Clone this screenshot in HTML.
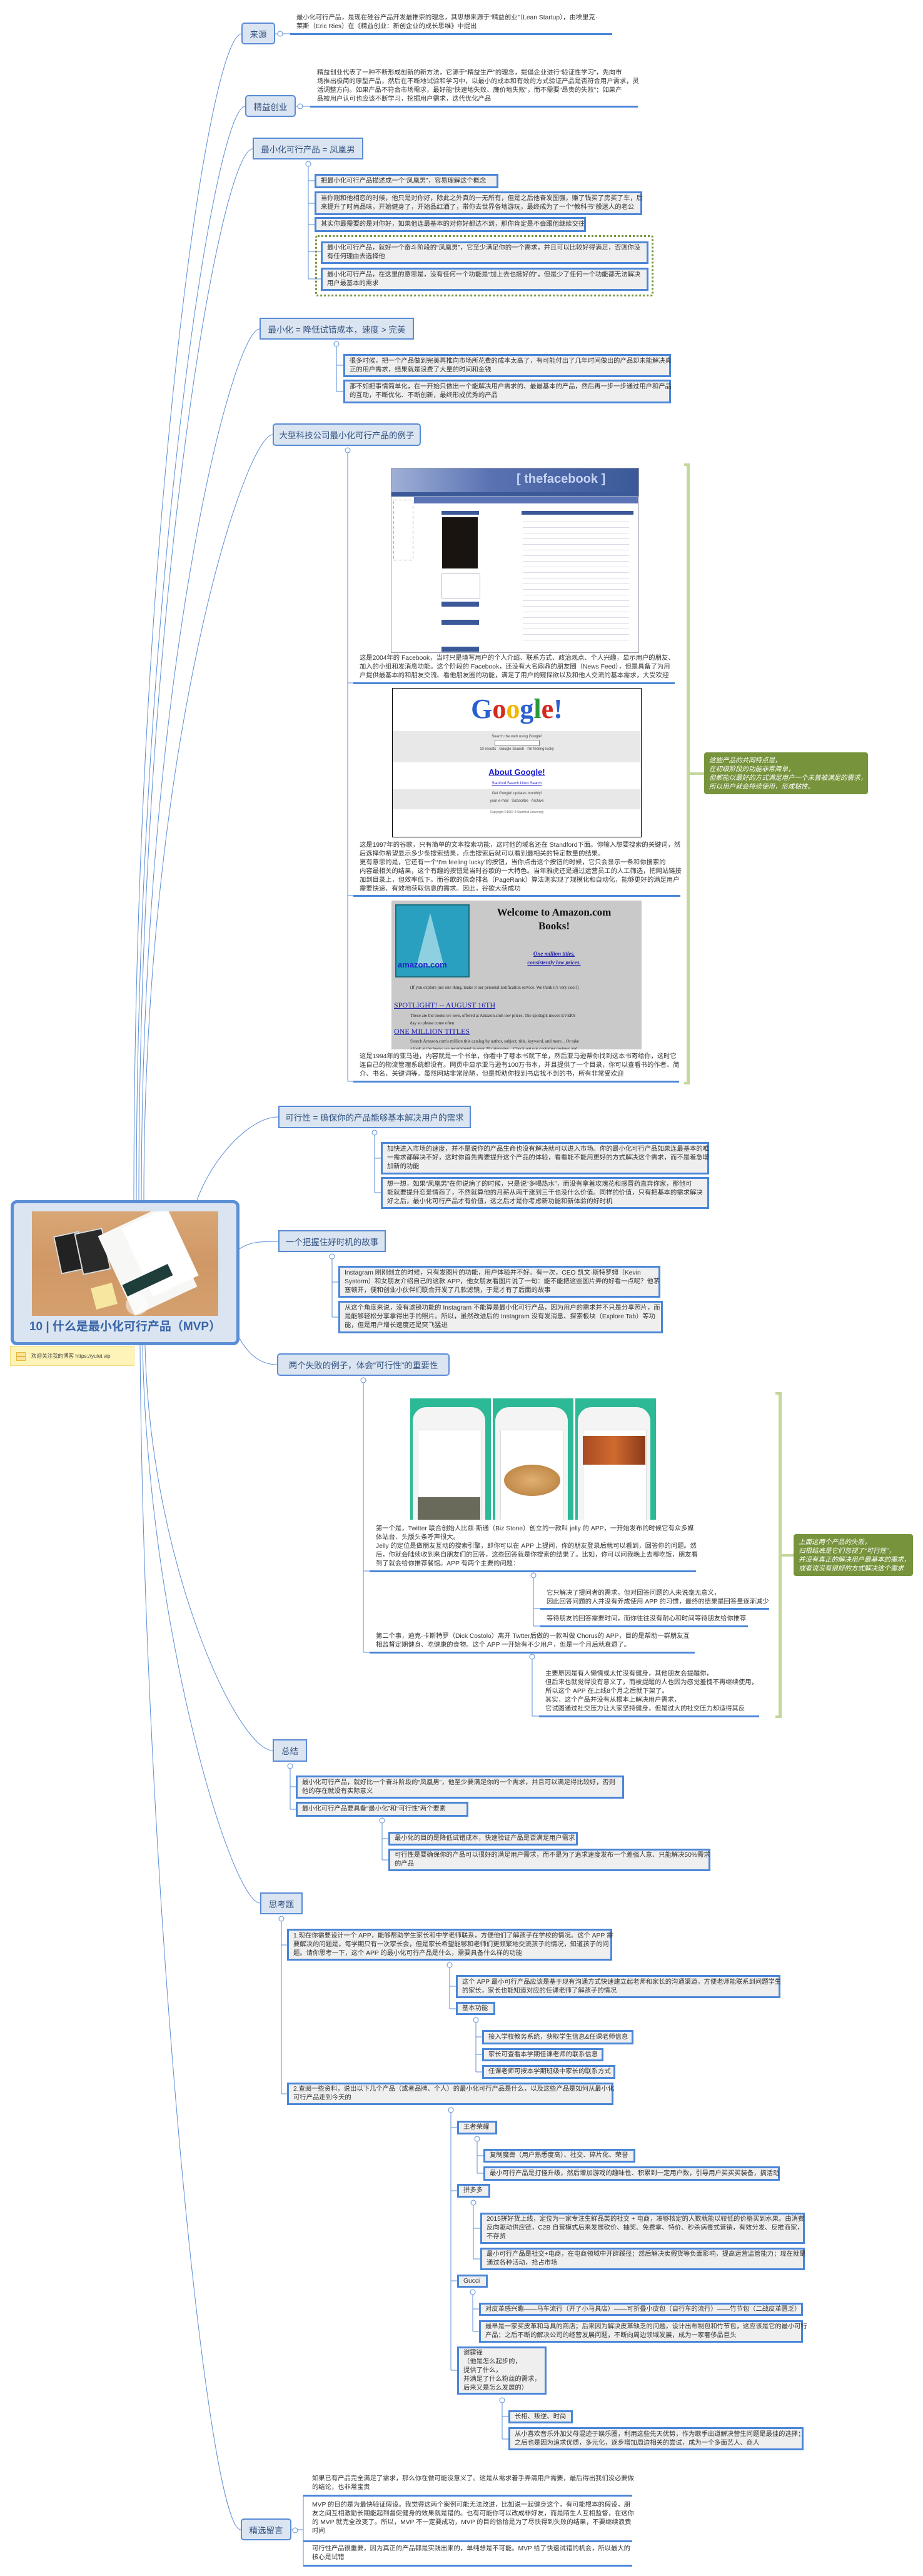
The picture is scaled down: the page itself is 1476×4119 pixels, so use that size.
<!DOCTYPE html>
<html><head><meta charset="utf-8">
<style>
*{margin:0;padding:0}
body{width:1476px;height:4119px;position:relative;background:#fff;font-family:"Liberation Sans","Noto Sans CJK SC",sans-serif;overflow:hidden}
.n{position:absolute;background:#dbe5f1;border:2px solid #5a8bd6;color:#2f4f7f;font-size:13.5px;display:flex;align-items:center;justify-content:center;box-sizing:border-box;white-space:nowrap}
.r{border-radius:5px}
.b{position:absolute;background:#efefef;border:3px solid #4a86d8;box-sizing:border-box;font-size:10.3px;line-height:14px;padding:0 7px;color:#333;white-space:nowrap;display:flex;align-items:center}
.t{position:absolute;font-size:10.3px;line-height:14px;color:#333;white-space:nowrap}
.u{position:absolute;height:3px;background:#4a86d8}
.g{position:absolute;background:#77933c;color:#fff;font-style:italic;font-size:10.5px;line-height:14px;padding:6px 8px;box-sizing:border-box;border-radius:4px;white-space:nowrap}
.gb{position:absolute;background:#c3d69b}
svg{position:absolute;left:0;top:0}
</style></head><body>
<svg width="1476" height="4119" fill="none" stroke="#5b8ed6" stroke-width="1">
<!-- main curves -->
<path d="M214 1919 C214 900,330 60,386 54"/>
<path d="M218 1919 C218 1000,340 172,392 170"/>
<path d="M222 1919 C222 1000,350 240,404 238"/>
<path d="M226 1919 C226 1100,370 528,415 526"/>
<path d="M230 1919 C230 1200,390 697,436 695"/>
<path d="M315 1919 C340 1850,400 1786,445 1786"/>
<path d="M383 1997 C400 1985,420 1985,445 1985"/>
<path d="M383 2140 C400 2170,420 2182,443 2182"/>
<path d="M232 2151 C240 2500,380 2799,436 2799"/>
<path d="M228 2151 C236 2600,370 3043,416 3043"/>
<path d="M224 2151 C230 3000,330 4045,385 4045"/>
<!-- 来源 -->
<path d="M440 54 H464"/><circle cx="448" cy="54" r="4" fill="#fff"/>
<path d="M473 170 H496"/><circle cx="480" cy="170" r="4" fill="#fff"/>
<!-- 凤凰男 -->
<path d="M493 266 V446 M493 289 H503 M493 325 H503 M493 359 H503 M493 402 H513 M493 446 H513"/><circle cx="493" cy="262" r="4" fill="#fff"/>
<path d="M538 554 V626 M538 584 H549 M538 626 H549"/><circle cx="538" cy="550" r="4" fill="#fff"/>
<path d="M556 724 V1729 M556 1092 H565 M556 1432 H565 M556 1729 H565"/><circle cx="556" cy="720" r="4" fill="#fff"/>
<path d="M599 1815 V1907 M599 1852 H609 M599 1907 H609"/><circle cx="599" cy="1811" r="4" fill="#fff"/>
<path d="M531 2013 V2106 M531 2050 H541 M531 2106 H541"/><circle cx="531" cy="2009" r="4" fill="#fff"/>
<path d="M581 2211 V2642 M581 2512 H591 M581 2642 H591"/><circle cx="581" cy="2207" r="4" fill="#fff"/>
<path d="M853 2523 V2600 M853 2572 H864 M853 2600 H864"/><circle cx="853" cy="2519" r="4" fill="#fff"/>
<path d="M851 2653 V2744 H862"/><circle cx="851" cy="2649" r="4" fill="#fff"/>
<path d="M464 2828 V2893 M464 2857 H473 M464 2893 H473"/><circle cx="464" cy="2824" r="4" fill="#fff"/>
<path d="M611 2915 V2974 M611 2940 H621 M611 2974 H621"/><circle cx="611" cy="2911" r="4" fill="#fff"/>
<path d="M450 3072 V3348 M450 3110 H459 M450 3348 H459"/><circle cx="450" cy="3068" r="4" fill="#fff"/>
<path d="M719 3146 V3212 M719 3176 H729 M719 3212 H729"/><circle cx="719" cy="3142" r="4" fill="#fff"/>
<path d="M761 3234 V3313 M761 3257 H771 M761 3285 H771 M761 3313 H771"/><circle cx="761" cy="3230" r="4" fill="#fff"/>
<path d="M721 3378 V3790 M721 3402 H731 M721 3503 H731 M721 3647 H731 M721 3790 H731"/><circle cx="721" cy="3374" r="4" fill="#fff"/>
<path d="M763 3424 V3475 M763 3447 H773 M763 3475 H773"/><circle cx="763" cy="3420" r="4" fill="#fff"/>
<path d="M757 3526 V3612 M757 3563 H768 M757 3612 H768"/><circle cx="757" cy="3522" r="4" fill="#fff"/>
<path d="M756 3669 V3728 M756 3692 H766 M756 3728 H766"/><circle cx="756" cy="3665" r="4" fill="#fff"/>
<path d="M803 3842 V3900 M803 3864 H813 M803 3900 H813"/><circle cx="803" cy="3838" r="4" fill="#fff"/>
<path d="M466 4045 H476 M485 3990 V4102 M476 4045 H485"/><circle cx="472" cy="4046" r="4" fill="#fff"/>
</svg>

<!-- 来源 -->
<div class="n r" style="left:386px;top:36px;width:54px;height:35px">来源</div>
<div class="t" style="left:474px;top:22px">最小化可行产品，是现在硅谷产品开发最推崇的理念，其思想来源于“精益创业”（Lean Startup），由埃里克·<br>莱斯（Eric Ries）在《精益创业：新创企业的成长思维》中提出</div>
<div class="u" style="left:464px;top:53px;width:515px"></div>

<div class="n r" style="left:392px;top:152px;width:81px;height:35px">精益创业</div>
<div class="t" style="left:507px;top:110px">精益创业代表了一种不断形成创新的新方法，它源于“精益生产”的理念，提倡企业进行“验证性学习”，先向市<br>场推出极简的原型产品，然后在不断地试验和学习中，以最小的成本和有效的方式验证产品是否符合用户需求，灵<br>活调整方向。如果产品不符合市场需求，最好能“快速地失败、廉价地失败”，而不需要“昂贵的失败”；如果产<br>品被用户认可也应该不断学习，挖掘用户需求，迭代优化产品</div>
<div class="u" style="left:496px;top:169px;width:524px"></div>

<div class="n" style="left:404px;top:220px;width:177px;height:35px">最小化可行产品 = 凤凰男</div>
<div class="b" style="left:503px;top:278px;width:294px;height:23px">把最小化可行产品描述成一个“凤凰男”，容易理解这个概念</div>
<div class="b" style="left:503px;top:306px;width:524px;height:38px">当你刚和他相恋的时候，他只是对你好，除此之外真的一无所有，但是之后他奋发图强，赚了钱买了房买了车，后<br>来提升了时尚品味，开始健身了，开始品红酒了，带你去世界各地游玩，最终成为了一个“教科书”般迷人的老公</div>
<div class="b" style="left:503px;top:347px;width:434px;height:24px">其实你最需要的是对你好，如果他连最基本的对你好都达不到，那你肯定是不会跟他继续交往</div>
<div style="position:absolute;left:504px;top:376px;width:541px;height:98px;border:3px dotted #77933c;box-sizing:border-box;border-radius:4px"></div>
<div class="b" style="left:513px;top:386px;width:524px;height:36px">最小化可行产品，就好一个奋斗阶段的“凤凰男”，它至少满足你的一个需求，并且可以比较好得满足，否则你没<br>有任何理由去选择他</div>
<div class="b" style="left:513px;top:428px;width:524px;height:37px">最小化可行产品，在这里的意思是，没有任何一个功能是“加上去也挺好的”，但是少了任何一个功能都无法解决<br>用户最基本的需求</div>

<div class="n" style="left:415px;top:508px;width:247px;height:35px">最小化 = 降低试错成本，速度 &gt; 完美</div>
<div class="b" style="left:549px;top:566px;width:524px;height:37px">很多时候，把一个产品做到完美再推向市场所花费的成本太高了，有可能付出了几年时间做出的产品却未能解决真<br>正的用户需求，结果就是浪费了大量的时间和金钱</div>
<div class="b" style="left:549px;top:607px;width:524px;height:38px">那不如把事情简单化，在一开始只做出一个能解决用户需求的、最最基本的产品，然后再一步一步通过用户和产品<br>的互动，不断优化、不断创新，最终形成优秀的产品</div>

<div class="n r" style="left:436px;top:677px;width:237px;height:36px">大型科技公司最小化可行产品的例子</div>
<!-- facebook -->
<div style="position:absolute;left:625px;top:748px;width:395px;height:294px;background:#fff;border:1px solid #99a;overflow:hidden">
 <div style="height:38px;background:linear-gradient(90deg,#9fb0d6,#5a72b2 40%,#3b5998);color:#c8d6f5;font-size:20px;font-weight:bold;padding:6px 0 0 200px;box-sizing:border-box">[ thefacebook ]</div>
 <div style="height:7px;background:#3b5998"></div>
 <div style="position:absolute;left:36px;top:46px;width:358px;height:10px;background:#5b74b5"></div>
 <div style="position:absolute;left:3px;top:50px;width:30px;height:95px;border:1px dotted #99a"></div>
 <div style="position:absolute;left:80px;top:68px;width:60px;height:6px;background:#3b5998"></div>
 <div style="position:absolute;left:81px;top:78px;width:57px;height:82px;background:#1a1410"></div>
 <div style="position:absolute;left:208px;top:68px;width:179px;height:6px;background:#3b5998"></div>
 <div style="position:absolute;left:80px;top:168px;width:60px;height:38px;border:1px solid #bbc"></div>
 <div style="position:absolute;left:80px;top:213px;width:60px;height:8px;background:#3b5998"></div>
 <div style="position:absolute;left:80px;top:242px;width:60px;height:8px;background:#3b5998"></div>
 <div style="position:absolute;left:80px;top:285px;width:60px;height:8px;background:#3b5998"></div>
 <div style="position:absolute;left:210px;top:80px;width:170px;height:200px;background:repeating-linear-gradient(#fff 0 5px,#d8dbe6 5px 6px,#fff 6px 9px)"></div>
</div>
<div class="t" style="left:575px;top:1046px">这是2004年的 Facebook，当时只是填写用户的个人介绍、联系方式、政治观点、个人兴趣，显示用户的朋友、<br>加入的小组和发消息功能。这个阶段的 Facebook，还没有大名鼎鼎的朋友圈（News Feed），但是具备了为用<br>户提供最基本的和朋友交流、看他朋友圈的功能，满足了用户的窥探欲以及和他人交流的基本需求，大受欢迎</div>
<div class="u" style="left:565px;top:1091px;width:514px"></div>
<!-- google -->
<div style="position:absolute;left:627px;top:1100px;width:399px;height:239px;background:#fff;border:1px solid #000;box-sizing:border-box;text-align:center;overflow:hidden">
 <div style="font-family:'Liberation Serif',serif;font-weight:bold;font-size:44px;line-height:58px;margin-top:4px"><span style="color:#2a5fd0">G</span><span style="color:#d52a1e">o</span><span style="color:#f0b800">o</span><span style="color:#2a5fd0">g</span><span style="color:#2a9a3a">l</span><span style="color:#d52a1e">e</span><span style="color:#2a5fd0">!</span></div>
 <div style="background:#e8e8e8;height:50px;margin-top:6px;font-size:6px;color:#444;padding-top:6px;box-sizing:border-box">Search the web using Google!<div style="width:70px;height:8px;border:1px solid #888;background:#fff;margin:2px auto"></div>10 results &nbsp; Google Search &nbsp; I'm feeling lucky</div>
 <div style="color:#1a1acc;font-size:13px;font-weight:bold;text-decoration:underline;margin-top:8px">About Google!</div>
 <div style="color:#1a1acc;font-size:6px;text-decoration:underline;margin-top:8px">Stanford Search Linux Search</div>
 <div style="background:#e8e8e8;height:32px;margin-top:6px;font-size:6px;color:#444;padding-top:4px;box-sizing:border-box">Get Google! updates monthly!<br><br>your e-mail &nbsp; Subscribe &nbsp; Archive</div>
 <div style="font-size:5px;color:#666;margin-top:2px">Copyright ©1997-8 Stanford University</div>
</div>
<div class="t" style="left:575px;top:1345px">这是1997年的谷歌，只有简单的文本搜索功能，这时他的域名还在 Standford下面。你输入想要搜索的关键词，然<br>后选择你希望显示多少条搜索结果，点击搜索后就可以看到最相关的特定数量的结果。<br>更有意思的是，它还有一个‘I'm feeling lucky’的按钮，当你点击这个按钮的时候，它只会显示一条和你搜索的<br>内容最相关的结果，这个有趣的按钮是当时谷歌的一大特色。当年雅虎还是通过运营员工的人工筛选，把网站链接<br>加到目录上，但效率低下。而谷歌的佩奇排名（PageRank）算法则实现了规模化和自动化，能够更好的满足用户<br>需要快速、有效地获取信息的需求。因此，谷歌大获成功</div>
<div class="u" style="left:565px;top:1431px;width:523px"></div>
<!-- amazon -->
<div style="position:absolute;left:626px;top:1440px;width:400px;height:238px;background:#c9c9c9;overflow:hidden;font-family:'Liberation Serif',serif">
 <div style="position:absolute;left:6px;top:6px;width:115px;height:113px;background:#2aa0c0;border:2px solid #1a6f80"></div>
 <div style="position:absolute;left:40px;top:20px;width:0;height:0;border-left:22px solid transparent;border-right:22px solid transparent;border-bottom:85px solid #8fd0e0"></div>
 <div style="position:absolute;left:10px;top:95px;color:#2222cc;font-family:'Liberation Sans',sans-serif;font-weight:bold;font-size:13px">amazon.com</div>
 <div style="position:absolute;left:130px;top:8px;width:260px;text-align:center;font-weight:bold;font-size:17px;line-height:22px;color:#111">Welcome to Amazon.com<br>Books!</div>
 <div style="position:absolute;left:130px;top:78px;width:260px;text-align:center;font-style:italic;font-weight:bold;font-size:9px;line-height:14px;color:#2222aa;text-decoration:underline">One million titles,<br>consistently low prices.</div>
 <div style="position:absolute;left:30px;top:135px;font-size:7px;color:#222">(If you explore just one thing, make it our personal notification service. We think it's very cool!)</div>
 <div style="position:absolute;left:4px;top:160px;font-size:12px;color:#2222aa;text-decoration:underline">SPOTLIGHT! -- AUGUST 16TH</div>
 <div style="position:absolute;left:30px;top:178px;font-size:7px;line-height:12px;color:#222">These are the books we love, offered at Amazon.com low prices. The spotlight moves EVERY<br>day so please come often.</div>
 <div style="position:absolute;left:4px;top:202px;font-size:12px;color:#2222aa;text-decoration:underline">ONE MILLION TITLES</div>
 <div style="position:absolute;left:30px;top:219px;font-size:7px;line-height:12px;color:#222">Search Amazon.com's million title catalog by author, subject, title, keyword, and more... Or take<br>a look at the books we recommend in over 20 categories... Check out our customer reviews and</div>
</div>
<div class="t" style="left:575px;top:1683px">这是1994年的亚马逊，内容就是一个书单，你看中了哪本书就下单，然后亚马逊帮你找到这本书寄给你，这时它<br>连自己的物流管理系统都没有。网页中显示亚马逊有100万书本，并且提供了一个目录，你可以查看书的作者、简<br>介、书名、关键词等。虽然网站非常简陋，但是帮助你找到书店找不到的书，所有非常受欢迎</div>
<div class="u" style="left:565px;top:1728px;width:521px"></div>
<div class="gb" style="left:1098px;top:741px;width:5px;height:993px"></div>
<div class="gb" style="left:1094px;top:741px;width:9px;height:4px"></div>
<div class="gb" style="left:1094px;top:1730px;width:9px;height:4px"></div>
<div class="gb" style="left:1103px;top:1235px;width:23px;height:4px"></div>
<div class="g" style="left:1126px;top:1203px;width:262px;height:67px">这些产品的共同特点是，<br>在初级阶段的功能非常简单，<br>但都能以最好的方式满足用户一个未曾被满足的需求，<br>所以用户就会持续使用，形成粘性。</div>

<div class="n" style="left:445px;top:1768px;width:308px;height:36px">可行性 = 确保你的产品能够基本解决用户的需求</div>
<div class="b" style="left:609px;top:1826px;width:525px;height:52px">加快进入市场的速度，并不是说你的产品生命也没有解决就可以进入市场。你的最小化可行产品如果连最基本的唯<br>一需求都解决不好，这时你首先需要提升这个产品的体验，看看能不能用更好的方式解决这个需求，而不是着急增<br>加新的功能</div>
<div class="b" style="left:609px;top:1882px;width:525px;height:51px">想一想，如果“凤凰男”在你说病了的时候，只是说“多喝热水”，而没有拿着玫瑰花和感冒药直奔你家，那他可<br>能就要提升恋爱情商了，不然就算他的月薪从两千涨到三千也没什么价值。同样的价值，只有把基本的需求解决<br>好之后，最小化可行产品才有价值，这之后才是你考虑新功能和新体验的好时机</div>

<!-- center -->
<div style="position:absolute;left:17px;top:1919px;width:366px;height:232px;background:#dbe5f1;border:5px solid #5a8fd6;border-radius:10px;box-sizing:border-box"></div>
<div style="position:absolute;left:51px;top:1937px;width:298px;height:167px;background:linear-gradient(180deg,#d9a675,#cf9866 50%,#d5a06f);overflow:hidden">
 <div style="position:absolute;left:40px;top:35px;width:38px;height:58px;background:#222;transform:rotate(-12deg);border:2px solid #ddd"></div>
 <div style="position:absolute;left:74px;top:30px;width:42px;height:64px;background:#2a2a2a;transform:rotate(-12deg);border:2px solid #ddd"></div>
 <div style="position:absolute;left:130px;top:10px;width:110px;height:140px;background:#f7f7f5;transform:rotate(-25deg)"></div>
 <div style="position:absolute;left:165px;top:5px;width:80px;height:120px;background:#fff;transform:rotate(-25deg)"></div>
 <div style="position:absolute;left:145px;top:100px;width:80px;height:20px;background:#1f3d3a;transform:rotate(-25deg)"></div>
 <div style="position:absolute;left:98px;top:118px;width:35px;height:35px;background:#f6e7a0;transform:rotate(-15deg)"></div>
 <div style="position:absolute;left:150px;top:132px;width:36px;height:34px;border-radius:50%;background:rgba(255,255,255,.5)"></div>
</div>
<div style="position:absolute;left:17px;top:2106px;width:366px;text-align:center;font-size:19px;font-weight:bold;color:#3a66a8;white-space:nowrap">10 | 什么是最小化可行产品（MVP）</div>
<div style="position:absolute;left:16px;top:2152px;width:199px;height:32px;background:#fff4b8;border:1px solid #f0da7c;box-sizing:border-box;font-size:8.5px;color:#444;line-height:30px;padding-left:33px;white-space:nowrap">欢迎关注我的博客 https://yulei.vip
 <div style="position:absolute;left:9px;top:9px;width:13px;height:5px;border:1px solid #e8b640;background:#fde39a"></div>
 <div style="position:absolute;left:9px;top:16px;width:13px;height:5px;border:1px solid #e8b640;background:#fde39a"></div>
</div>

<div class="n" style="left:445px;top:1967px;width:172px;height:35px">一个把握住好时机的故事</div>
<div class="b" style="left:541px;top:2024px;width:515px;height:51px">Instagram 刚刚创立的时候，只有发图片的功能，用户体验并不好。有一次，CEO 凯文·斯特罗姆（Kevin<br>Systorm）和女朋友介绍自己的这款 APP，他女朋友看图片说了一句：能不能把这些图片弄的好看一点呢？他茅<br>塞顿开，便和创业小伙伴们联合开发了几款滤镜，于是才有了后面的故事</div>
<div class="b" style="left:541px;top:2080px;width:519px;height:52px">从这个角度来说，没有滤镜功能的 Instagram 不能算是最小化可行产品，因为用户的需求并不只是分享照片，而<br>是能够轻松分享拿得出手的照片。所以，虽然改进后的 Instagram 没有发消息、探索板块（Explore Tab）等功<br>能，但是用户增长速度还是突飞猛进</div>

<div class="n r" style="left:443px;top:2164px;width:276px;height:36px">两个失败的例子，体会“可行性”的重要性</div>
<div style="position:absolute;left:656px;top:2236px;width:393px;height:194px;background:#fff;overflow:hidden">
 <div style="position:absolute;left:0;top:0;width:129px;height:194px;background:#2bb996"></div>
 <div style="position:absolute;left:132px;top:0;width:129px;height:194px;background:#2bb996"></div>
 <div style="position:absolute;left:264px;top:0;width:129px;height:194px;background:#2bb996"></div>
 <div style="position:absolute;left:4px;top:14px;width:116px;height:190px;background:#f4f4f4;border-radius:22px 22px 0 0"></div>
 <div style="position:absolute;left:136px;top:14px;width:116px;height:190px;background:#f4f4f4;border-radius:22px 22px 0 0"></div>
 <div style="position:absolute;left:268px;top:14px;width:116px;height:190px;background:#f4f4f4;border-radius:22px 22px 0 0"></div>
 <div style="position:absolute;left:12px;top:50px;width:100px;height:144px;background:#fff;border:1px solid #ddd"></div>
 <div style="position:absolute;left:144px;top:50px;width:100px;height:144px;background:#fff;border:1px solid #ddd"></div>
 <div style="position:absolute;left:276px;top:50px;width:100px;height:144px;background:#fff;border:1px solid #ddd"></div>
 <div style="position:absolute;left:12px;top:158px;width:100px;height:36px;background:#6a6a5a"></div>
 <div style="position:absolute;left:150px;top:106px;width:90px;height:50px;border-radius:50%;background:radial-gradient(#e0b070,#b47a3a)"></div>
 <div style="position:absolute;left:276px;top:60px;width:100px;height:46px;background:linear-gradient(90deg,#a84a20,#d06a30,#8a3a18)"></div>
</div>
<div class="t" style="left:601px;top:2438px">第一个是，Twitter 联合创始人比兹·斯通（Biz Stone）创立的一款叫 jelly 的 APP，一开始发布的时候它有众多媒<br>体站台、头版头条呼声很大。<br>Jelly 的定位是做朋友互动的搜索引擎，即你可以在 APP 上提问，你的朋友登录后就可以看到，回答你的问题。然<br>后，你就会陆续收到来自朋友们的回答，这些回答就是你搜索的结果了。比如，你可以问我晚上去哪吃饭，朋友看<br>到了就会给你推荐餐馆。APP 有两个主要的问题：</div>
<div class="u" style="left:591px;top:2511px;width:522px"></div>
<div class="t" style="left:874px;top:2541px">它只解决了提问者的需求，但对回答问题的人来说毫无意义，<br>因此回答问题的人并没有养成使用 APP 的习惯，最终的结果是回答量逐渐减少</div>
<div class="u" style="left:864px;top:2571px;width:366px"></div>
<div class="t" style="left:874px;top:2582px">等待朋友的回答需要时间，而你往往没有耐心和时间等待朋友给你推荐</div>
<div class="u" style="left:864px;top:2599px;width:332px"></div>
<div class="t" style="left:601px;top:2610px">第二个事，迪克·卡斯特罗（Dick Costolo）离开 Twtter后做的一款叫做 Chorus的 APP，目的是帮助一群朋友互<br>相监督定期健身、吃健康的食物。这个 APP 一开始有不少用户，但是一个月后就衰退了。</div>
<div class="u" style="left:591px;top:2641px;width:520px"></div>
<div class="t" style="left:872px;top:2670px">主要原因是有人懒惰或太忙没有健身，其他朋友会提醒你，<br>但后来也就觉得没有意义了，而被提醒的人也因为感觉羞愧不再继续使用，<br>所以这个 APP 在上线8个月之后就下架了。<br>其实，这个产品并没有从根本上解决用户需求，<br>它试图通过社交压力让大家坚持健身，但是过大的社交压力却适得其反</div>
<div class="u" style="left:862px;top:2743px;width:352px"></div>
<div class="gb" style="left:1245px;top:2226px;width:5px;height:521px"></div>
<div class="gb" style="left:1240px;top:2226px;width:10px;height:4px"></div>
<div class="gb" style="left:1240px;top:2743px;width:10px;height:4px"></div>
<div class="gb" style="left:1250px;top:2485px;width:19px;height:4px"></div>
<div class="g" style="left:1269px;top:2453px;width:191px;height:67px">上面这两个产品的失败，<br>归根结底是它们忽视了“可行性”，<br>并没有真正的解决用户最基本的需求，<br>或者说没有很好的方式解决这个需求</div>

<div class="n" style="left:436px;top:2781px;width:55px;height:36px">总结</div>
<div class="b" style="left:473px;top:2839px;width:525px;height:37px">最小化可行产品，就好比一个奋斗阶段的“凤凰男”，他至少要满足你的一个需求，并且可以满足得比较好，否则<br>他的存在就没有实际意义</div>
<div class="b" style="left:473px;top:2881px;width:276px;height:24px">最小化可行产品要具备“最小化”和“可行性”两个要素</div>
<div class="b" style="left:621px;top:2929px;width:303px;height:22px">最小化的目的是降低试错成本，快速验证产品是否满足用户需求</div>
<div class="b" style="left:621px;top:2956px;width:515px;height:36px">可行性是要确保你的产品可以很好的满足用户需求，而不是为了追求速度发布一个差强人意、只能解决50%需求<br>的产品</div>

<div class="n" style="left:416px;top:3026px;width:68px;height:35px">思考题</div>
<div class="b" style="left:459px;top:3084px;width:520px;height:51px">1.现在你需要设计一个 APP，能够帮助学生家长和中学老师联系，方便他们了解孩子在学校的情况。这个 APP 需<br>要解决的问题是，每学期只有一次家长会，但是家长希望能够和老师们更频繁地交流孩子的情况，知道孩子的问<br>题。请你思考一下，这个 APP 的最小化可行产品是什么，需要具备什么样的功能</div>
<div class="b" style="left:729px;top:3158px;width:519px;height:37px">这个 APP 最小可行产品应该是基于现有沟通方式快速建立起老师和家长的沟通渠道，方便老师能联系到问题学生<br>的家长，家长也能知道对应的任课老师了解孩子的情况</div>
<div class="b" style="left:729px;top:3201px;width:63px;height:21px">基本功能</div>
<div class="b" style="left:771px;top:3246px;width:242px;height:23px">接入学校教务系统，获取学生信息&amp;任课老师信息</div>
<div class="b" style="left:771px;top:3275px;width:194px;height:21px">家长可查看本学期任课老师的联系信息</div>
<div class="b" style="left:771px;top:3302px;width:213px;height:22px">任课老师可按本学期班级中家长的联系方式</div>
<div class="b" style="left:459px;top:3330px;width:522px;height:36px">2.查阅一些资料，说出以下几个产品（或者品牌、个人）的最小化可行产品是什么，以及这些产品是如何从最小化<br>可行产品走到今天的</div>
<div class="b" style="left:731px;top:3391px;width:64px;height:22px">王者荣耀</div>
<div class="b" style="left:773px;top:3436px;width:243px;height:22px">复制魔兽（用户熟悉度高）、社交、碎片化、荣誉</div>
<div class="b" style="left:773px;top:3464px;width:474px;height:23px">最小可行产品是打怪升级，然后增加游戏的趣味性、积累到一定用户数，引导用户买买买装备，搞活动</div>
<div class="b" style="left:731px;top:3492px;width:53px;height:22px">拼多多</div>
<div class="b" style="left:768px;top:3538px;width:519px;height:50px">2015拼好货上线，定位为一家专注生鲜品类的社交 + 电商，凑够核定的人数就能以较低的价格买到水果。由消费<br>反向驱动供应链，C2B 自营模式后来发展砍价、抽奖、免费拿、特价、秒杀病毒式营销，有效分发、反推商家，<br>不存货</div>
<div class="b" style="left:768px;top:3594px;width:519px;height:36px">最小可行产品是社交+电商，在电商领域中开辟蹊径；然后解决卖假货等负面影响，提高运营监管能力；现在就是<br>通过各种活动，抢占市场</div>
<div class="b" style="left:731px;top:3637px;width:49px;height:21px">Gucci</div>
<div class="b" style="left:766px;top:3682px;width:518px;height:21px">对皮革感兴趣——马车流行（开了小马具店）——可折叠小皮包（自行车的流行）——竹节包（二战皮革匮乏）</div>
<div class="b" style="left:766px;top:3710px;width:518px;height:36px">最早是一家买皮革和马具的商店；后来因为解决皮革缺乏的问题，设计出布制包和竹节包，这应该是它的最小可行<br>产品；之后不断的解决公司的经营发展问题，不断向周边领域发展，成为一家奢侈品巨头</div>
<div class="b" style="left:731px;top:3752px;width:143px;height:77px">谢霆锋<br>（他是怎么起步的，<br>提供了什么，<br>并满足了什么粉丝的需求，<br>后来又是怎么发展的）</div>
<div class="b" style="left:813px;top:3854px;width:103px;height:21px">长相、叛逆、时尚</div>
<div class="b" style="left:813px;top:3881px;width:472px;height:37px">从小喜欢音乐外加父母混迹于娱乐圈，利用这些先天优势，作为歌手出道解决营生问题是最佳的选择；<br>之后也是因为追求优质，多元化，逐步增加周边相关的尝试，成为一个多面艺人、商人</div>

<div class="n r" style="left:385px;top:4027px;width:81px;height:35px">精选留言</div>
<div class="t" style="left:499px;top:3957px">如果已有产品完全满足了需求，那么你在做可能没意义了。这是从需求着手弄清用户需要，最后得出我们没必要做<br>的结论，也非常宝贵</div>
<div class="u" style="left:485px;top:3989px;width:526px"></div>
<div class="t" style="left:499px;top:3999px">MVP 的目的是为最快验证假设。我觉得这两个案例可能无法改进，比如说一起健身这个，有可能根本的假设，朋<br>友之间互相激励长期能起到督促健身的效果就是错的。也有可能你可以改成非好友，而是陌生人互相监督，在这你<br>的 MVP 就完全改变了。所以，MVP 不一定要成功，MVP 的目的恰恰是为了尽快得到失败的结果，不要继续浪费<br>时间</div>
<div class="u" style="left:485px;top:4062px;width:526px"></div>
<div class="t" style="left:499px;top:4069px">可行性产品很重要，因为真正的产品都是实践出来的，单纯想是不可能。MVP 给了快速试错的机会，所以最大的<br>核心是试错</div>
<div class="u" style="left:485px;top:4101px;width:526px"></div>
</body></html>
